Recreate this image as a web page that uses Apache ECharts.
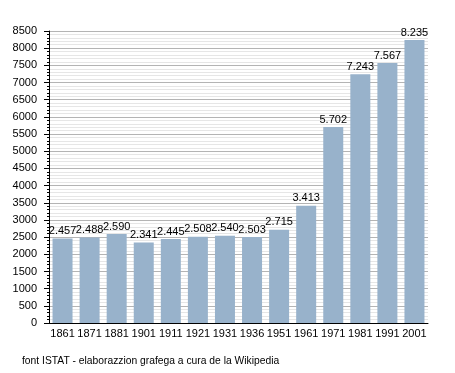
<!DOCTYPE html>
<html>
<head>
<meta charset="utf-8">
<script src="https://cdn.jsdelivr.net/npm/echarts@6/dist/echarts.min.js"></script>
<style>
html,body{margin:0;padding:0;background:#fff;}
#chart{width:455px;height:373px;}
</style>
</head>
<body>
<div id="chart"></div>
<script>
var categories = ['1861','1871','1881','1901','1911','1921','1931','1936','1951','1961','1971','1981','1991','2001'];
var population = [2457, 2488, 2590, 2341, 2445, 2508, 2540, 2503, 2715, 3413, 5702, 7243, 7567, 8235];
var yTicks = {min: 0, max: 8500, interval: 500};
var footer = 'font ISTAT - elaborazzion grafega a cura de la Wikipedia';

var FONT = '"Liberation Sans", Arial, sans-serif';
var chart = echarts.init(document.getElementById('chart'), null, {renderer: 'canvas'});
chart.setOption({
  animation: false,
  backgroundColor: '#ffffff',
  textStyle: {fontFamily: FONT},
  graphic: [{
    type: 'text', left: 22, top: 356,
    style: {text: footer, fontSize: 10.3, fontFamily: FONT, fill: '#000'}
  }],
  grid: {left: 49, top: 31, width: 379, height: 292, containLabel: false},
  xAxis: {
    type: 'category',
    data: categories,
    axisLine: {show: true, lineStyle: {color: '#000', width: 1}},
    axisTick: {show: false},
    axisLabel: {color: '#000', fontSize: 11, fontFamily: FONT, margin: 5, interval: 0},
    splitLine: {show: false}
  },
  yAxis: {
    type: 'value',
    min: yTicks.min, max: yTicks.max, interval: yTicks.interval,
    axisLine: {show: true, lineStyle: {color: '#000', width: 1}},
    axisTick: {show: true, inside: false, length: 5, lineStyle: {color: '#000'}},
    minorTick: {show: true, splitNumber: 5, length: 2, lineStyle: {color: '#000'}},
    axisLabel: {color: '#000', fontSize: 11, fontFamily: FONT, margin: 12,
      formatter: function (v) { return String(v); }},
    splitLine: {show: true, lineStyle: {color: '#b4b4b4', width: 1}},
    minorSplitLine: {show: true, lineStyle: {color: '#e6e6e6', width: 1}}
  },
  series: [{
    type: 'bar',
    data: population,
    barWidth: 20,
    itemStyle: {color: '#98b2cb'},
    label: {
      show: true, position: 'top', distance: 2,
      color: '#000', fontSize: 11, fontFamily: FONT,
      formatter: function (p) { return (p.value / 1000).toFixed(3); }
    }
  }]
});
</script>
</body>
</html>
